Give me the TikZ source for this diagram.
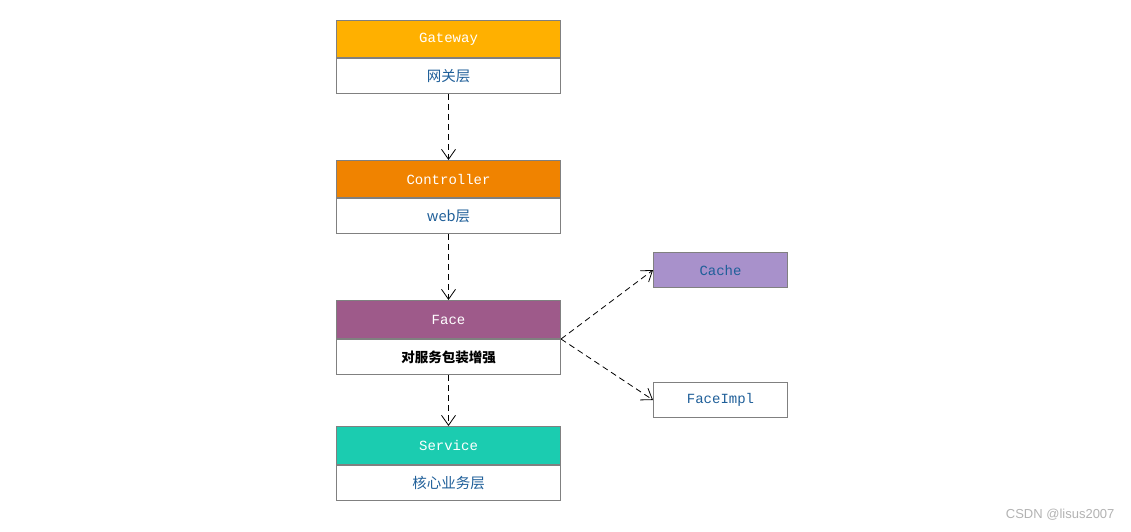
\documentclass[tikz,border=0pt]{standalone}
\usepackage{fontspec}
\setmonofont{Liberation Mono}
\newfontfamily\cjk{Noto Sans CJK SC}
\usetikzlibrary{positioning, arrows.meta}
\definecolor{gwcol}{HTML}{FFB000}
\definecolor{ctlcol}{HTML}{F08300}
\definecolor{facecol}{HTML}{9E5A8A}
\definecolor{svccol}{HTML}{1BCCB0}
\definecolor{cachecol}{HTML}{A891CB}
\definecolor{txtblue}{HTML}{1F5F99}
\definecolor{edgegray}{HTML}{808080}
\tikzstyle{Head}=[rectangle, draw=edgegray, line width=1pt, minimum width=224pt, minimum height=37pt, anchor=north west, text=white, font=\ttfamily\fontsize{14}{14}\selectfont, inner sep=0pt]
\tikzstyle{Body}=[rectangle, draw=edgegray, line width=1pt, fill=white, minimum width=224pt, minimum height=35pt, text=txtblue, font=\cjk\fontsize{14.5}{14.5}\selectfont, inner sep=0pt]
\tikzstyle{Side}=[rectangle, draw=edgegray, line width=1pt, minimum width=134pt, minimum height=35pt, anchor=north west, text=txtblue, font=\ttfamily\fontsize{14}{14}\selectfont, inner sep=0pt]
\tikzstyle{Link}=[dashed, line width=0.8pt, dash pattern=on 6pt off 4pt, -{Straight Barb[length=10pt, width=14pt]}]

\begin{document}
\begin{tikzpicture}[x=1pt, y=-1pt]
		\useasboundingbox (0,0) rectangle (1131,532);
		% layers
		\node[Head, fill=gwcol] (gw) at (336,20) {Gateway};
		\node[Body, below=0pt of gw] (gwb) {网关层};
		\node[Head, fill=ctlcol] (ctl) at (336,160) {Controller};
		\node[Body, below=0pt of ctl] (ctlb) {web层};
		\node[Head, fill=facecol, minimum height=38pt] (face) at (336,300) {Face};
		\node[Body, below=0pt of face, text=black, font=\cjk\bfseries\fontsize{13.5}{13.5}\selectfont] (faceb) {对服务包装增强};
		\node[Head, fill=svccol, minimum height=38pt] (svc) at (336,426) {Service};
		\node[Body, below=0pt of svc] (svcb) {核心业务层};
		% right side
		\node[Side, fill=cachecol] (cache) at (653,252) {Cache};
		\node[Side, fill=white] (impl) at (653,382) {FaceImpl};
		\path
		(gwb.south) edge[Link] (ctl.north)
		(ctlb.south) edge[Link] (face.north)
		(faceb.south) edge[Link] (svc.north)
		(face.south east) edge[Link] (cache.west) edge[Link] (impl.west)
		;
		\node[text=gray!60, font=\fontspec{Liberation Sans}\fontsize{13}{13}\selectfont, anchor=south east] (mark) at (1118,524) {CSDN @lisus2007};
\end{tikzpicture}
\end{document}
